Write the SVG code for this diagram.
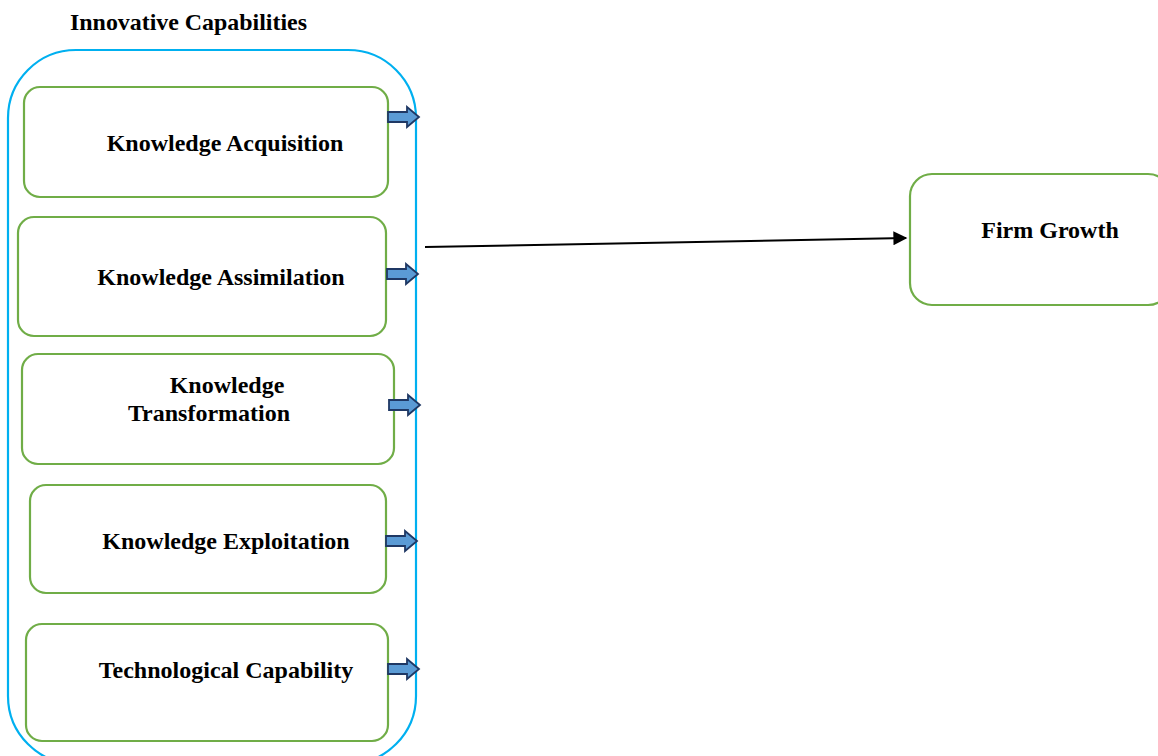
<svg xmlns="http://www.w3.org/2000/svg" width="1158" height="756" viewBox="0 0 1158 756">
<style>
.box{fill:#fff;stroke:#70ad47;stroke-width:2.2}
.cont{fill:none;stroke:#00b0f0;stroke-width:2.2}
.t{font-family:"Liberation Serif",serif;font-weight:bold;font-size:24px;fill:#000}
.ba{fill:#5b9bd5;stroke:#1f3864;stroke-width:1.8;stroke-linejoin:miter}
.conn{stroke:#000;stroke-width:2;fill:none}
</style>
<defs>
<marker id="ah" viewBox="0 0 10 10" refX="9" refY="5" markerWidth="16" markerHeight="14" markerUnits="userSpaceOnUse" orient="auto">
<path d="M0,0 L10,5 L0,10 z" fill="#000"/>
</marker>
<path id="blk" d="M0,-5 L19,-5 L19,-10 L31,0 L19,10 L19,5 L0,5 z"/>
</defs>
<text class="t" x="70" y="30" textLength="237" lengthAdjust="spacingAndGlyphs">Innovative Capabilities</text>
<rect class="cont" x="8" y="50" width="408" height="714" rx="68" ry="68"/>
<g id="n1"><rect class="box" x="24" y="87" width="364" height="110" rx="16"/><text class="t" x="225" y="151" text-anchor="middle">Knowledge Acquisition</text></g>
<g id="n2"><rect class="box" x="18" y="217" width="368" height="119" rx="16"/><text class="t" x="221" y="285" text-anchor="middle">Knowledge Assimilation</text></g>
<g id="n3"><rect class="box" x="22" y="354" width="372" height="110" rx="16"/><text class="t" x="227" y="393" text-anchor="middle">Knowledge</text><text class="t" x="209" y="421" text-anchor="middle">Transformation</text></g>
<g id="n4"><rect class="box" x="30" y="485" width="356" height="108" rx="16"/><text class="t" x="226" y="549" text-anchor="middle">Knowledge Exploitation</text></g>
<g id="n5"><rect class="box" x="26" y="624" width="362" height="117" rx="16"/><text class="t" x="226" y="678" text-anchor="middle">Technological Capability</text></g>
<g id="n6"><rect class="box" x="910" y="174" width="260" height="131" rx="22"/><text class="t" x="1050" y="238" text-anchor="middle">Firm Growth</text></g>
<g id="connectors">
<use href="#blk" class="ba" transform="translate(388,117)"/>
<use href="#blk" class="ba" transform="translate(387,274)"/>
<use href="#blk" class="ba" transform="translate(389,405)"/>
<use href="#blk" class="ba" transform="translate(386,541)"/>
<use href="#blk" class="ba" transform="translate(388,669)"/>
<line class="conn" x1="425" y1="247" x2="906" y2="238" marker-end="url(#ah)"/>
</g>
</svg>
